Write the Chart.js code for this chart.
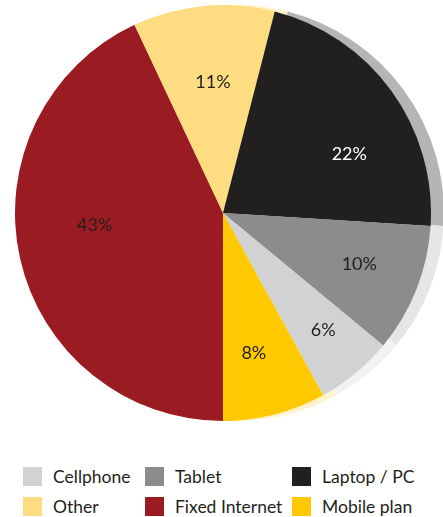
<!DOCTYPE html>
<html>
<head>
<meta charset="utf-8">
<script src="https://cdn.jsdelivr.net/npm/chart.js@4/dist/chart.umd.min.js"></script>
<style>
    html, body { margin: 0; padding: 0; background: #fff; }
    body { width: 443px; height: 517px; overflow: hidden; position: relative; font-family: Lato, "Open Sans", sans-serif; }
    #shadowChart, #pieChart { position: absolute; top: 5px; }
    #shadowChart { left: 28px; }
    #pieChart { left: 15px; }
    .legend {
        position: absolute; left: 23px; top: 467px;
        display: grid; grid-template-columns: 122px 147px auto; grid-auto-rows: 30px;
    }
    .legend-item { display: flex; align-items: flex-start; font-size: 17.5px; color: #231f20; }
    .legend-item span.box { width: 19px; height: 19px; margin-right: 11px; flex: none; }
    .legend-item span.text { line-height: 19px; }
</style>
</head>
<body>
<canvas id="shadowChart" width="416" height="416"></canvas>
<canvas id="pieChart" width="416" height="416"></canvas>
<div class="legend" id="legend"></div>

<script>
// slices, clockwise starting at 6 o'clock
const categories = ['Fixed Internet', 'Other', 'Laptop / PC', 'Tablet', 'Cellphone', 'Mobile plan'];
const shares = [43, 11, 22, 10, 6, 8];
const sliceColors = ['#9a1b21', '#fedc82', '#22201f', '#8b8c8e', '#d1d2d4', '#fec900'];
const shadowColors = ['#e6c5c6', '#fff0c6', '#b5b5b5', '#e5e6e6', '#f2f2f2', '#fff3cf'];
const labelColors = ['#231f20', '#231f20', '#ffffff', '#231f20', '#231f20', '#231f20'];
const legendOrder = ['Cellphone', 'Tablet', 'Laptop / PC', 'Other', 'Fixed Internet', 'Mobile plan'];

// label placement: [fraction of radius, angle nudge in degrees]
const labelPlacement = [[0.62, 7], [0.63, 1], [0.67, 11], [0.70, -1], [0.74, -1], [0.69, 2]];

const sliceLabels = {
    id: 'sliceLabels',
    afterDatasetsDraw(chart) {
        const ctx = chart.ctx;
        const meta = chart.getDatasetMeta(0);
        ctx.save();
        ctx.font = '18px Lato, "Open Sans", sans-serif';
        ctx.textAlign = 'center';
        ctx.textBaseline = 'middle';
        meta.data.forEach((arc, i) => {
            const p = arc.getProps(['x', 'y', 'startAngle', 'endAngle', 'outerRadius'], true);
            const [frac, nudge] = labelPlacement[i];
            const mid = (p.startAngle + p.endAngle) / 2 + nudge * Math.PI / 180;
            const r = p.outerRadius * frac;
            ctx.fillStyle = labelColors[i];
            ctx.fillText(shares[i] + '%', p.x + Math.cos(mid) * r, p.y + Math.sin(mid) * r);
        });
        ctx.restore();
    }
};

function pieOptions() {
    return {
        responsive: false,
        animation: false,
        rotation: 180,
        layout: { padding: 0 },
        plugins: { legend: { display: false }, tooltip: { enabled: false } }
    };
}

new Chart(document.getElementById('shadowChart').getContext('2d'), {
    type: 'pie',
    data: { labels: categories, datasets: [{ data: shares, backgroundColor: shadowColors, borderWidth: 0 }] },
    options: pieOptions()
});

new Chart(document.getElementById('pieChart').getContext('2d'), {
    type: 'pie',
    data: { labels: categories, datasets: [{ data: shares, backgroundColor: sliceColors, borderWidth: 0 }] },
    options: pieOptions(),
    plugins: [sliceLabels]
});

const legend = document.getElementById('legend');
legendOrder.forEach(name => {
    const i = categories.indexOf(name);
    const item = document.createElement('div');
    item.className = 'legend-item';
    item.innerHTML = `<span class="box" style="background:${sliceColors[i]}"></span><span class="text">${name}</span>`;
    legend.appendChild(item);
});
</script>
</body>
</html>
